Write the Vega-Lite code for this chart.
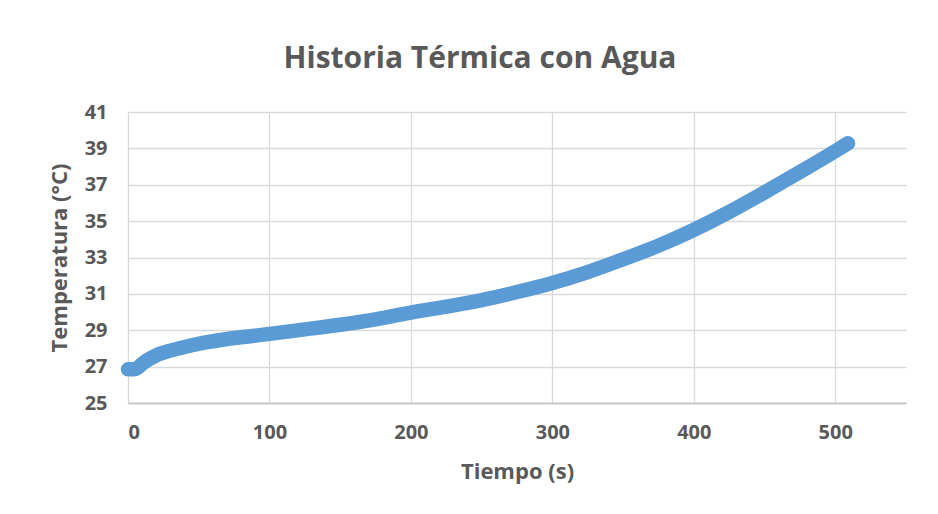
{
  "$schema": "https://vega.github.io/schema/vega-lite/v6.json",
  "width": 778,
  "height": 291,
  "autosize": {"type": "none"},
  "padding": {"left": 128, "top": 112, "right": 32, "bottom": 111},
  "background": "white",
  "title": {
    "text": "Historia Térmica con Agua",
    "font": "Open Sans",
    "fontSize": 30,
    "fontWeight": "bold",
    "color": "#595959",
    "anchor": "middle",
    "dx": -37,
    "offset": 28
  },
  "data": {
    "values": [
      {"t": 0, "temp": 26.85},
      {"t": 4, "temp": 26.85},
      {"t": 7, "temp": 26.95},
      {"t": 10, "temp": 27.15},
      {"t": 15, "temp": 27.42},
      {"t": 20, "temp": 27.62},
      {"t": 30, "temp": 27.88},
      {"t": 40, "temp": 28.08},
      {"t": 55, "temp": 28.33},
      {"t": 70, "temp": 28.52},
      {"t": 85, "temp": 28.66},
      {"t": 100, "temp": 28.8},
      {"t": 125, "temp": 29.05},
      {"t": 150, "temp": 29.3},
      {"t": 175, "temp": 29.6},
      {"t": 200, "temp": 29.97},
      {"t": 225, "temp": 30.3},
      {"t": 250, "temp": 30.66},
      {"t": 275, "temp": 31.1},
      {"t": 300, "temp": 31.6},
      {"t": 325, "temp": 32.2},
      {"t": 350, "temp": 32.9},
      {"t": 375, "temp": 33.65},
      {"t": 400, "temp": 34.52},
      {"t": 425, "temp": 35.5},
      {"t": 450, "temp": 36.58},
      {"t": 475, "temp": 37.7},
      {"t": 500, "temp": 38.85},
      {"t": 509, "temp": 39.28}
    ]
  },
  "mark": {
    "type": "line",
    "color": "#5B9BD5",
    "strokeWidth": 14.5,
    "strokeCap": "round",
    "strokeJoin": "round",
    "interpolate": "monotone",
    "clip": false
  },
  "encoding": {
    "x": {
      "field": "t",
      "type": "quantitative",
      "title": "Tiempo (s)",
      "scale": {"domain": [0, 550], "nice": false, "zero": false},
      "axis": {
        "values": [0, 100, 200, 300, 400, 500],
        "ticks": false,
        "grid": true,
        "gridColor": "#D9D9D9",
        "gridWidth": 1.3,
        "domainColor": "#BFBFBF",
        "domainWidth": 1.3,
        "labelFont": "Open Sans",
        "labelFontSize": 20,
        "labelFontWeight": "bold",
        "labelColor": "#595959",
        "labelPadding": 19,
        "titleFont": "Open Sans",
        "titleFontSize": 22,
        "titleFontWeight": "bold",
        "titleColor": "#595959",
        "titlePadding": 19
      }
    },
    "y": {
      "field": "temp",
      "type": "quantitative",
      "title": "Temperatura (°C)",
      "scale": {"domain": [25, 41], "nice": false, "zero": false},
      "axis": {
        "values": [25, 27, 29, 31, 33, 35, 37, 39, 41],
        "ticks": false,
        "domain": false,
        "grid": true,
        "gridColor": "#D9D9D9",
        "gridWidth": 1.3,
        "labelFont": "Open Sans",
        "labelFontSize": 20,
        "labelFontWeight": "bold",
        "labelColor": "#595959",
        "labelPadding": 21,
        "titleFont": "Open Sans",
        "titleFontSize": 22,
        "titleFontWeight": "bold",
        "titleColor": "#595959",
        "titlePadding": 13
      }
    }
  },
  "config": {"view": {"stroke": null}}
}
